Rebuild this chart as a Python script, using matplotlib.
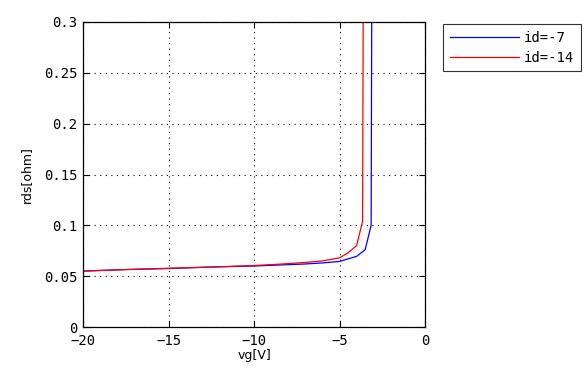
import numpy as np
import matplotlib
matplotlib.use("Agg")
import matplotlib.pyplot as plt

# rds vs gate voltage, two drain currents
vg_7 = [-20, -17.5, -15, -12.5, -10, -8.5, -7, -6, -5, -4.5, -4, -3.5, -3.15, -3.1]
rds_7 = [0.055, 0.0565, 0.0575, 0.059, 0.06, 0.061, 0.062, 0.063, 0.0645, 0.067, 0.0695, 0.076, 0.1, 0.4]

vg_14 = [-20, -17.5, -15, -12.5, -10, -8.5, -7, -6, -5, -4.5, -4, -3.65, -3.6]
rds_14 = [0.055, 0.0565, 0.0578, 0.059, 0.0605, 0.0618, 0.0635, 0.065, 0.068, 0.073, 0.08, 0.104, 0.4]

xticks = [-20, -15, -10, -5, 0]
yticks = [0, 0.05, 0.1, 0.15, 0.2, 0.25, 0.3]
ytick_labels = ["0", "0.05", "0.1", "0.15", "0.2", "0.25", "0.3"]

fig = plt.figure(figsize=(5.88, 3.78), dpi=100)
ax = fig.add_axes([0.1412, 0.1349, 0.5816, 0.8069])

l1, = ax.plot(vg_7, rds_7, color="blue", lw=0.9, label="id=-7")
l2, = ax.plot(vg_14, rds_14, color="red", lw=0.9, label="id=-14")

ax.set_xlim(-20, 0)
ax.set_ylim(0, 0.3)
ax.set_xticks(xticks)
ax.set_yticks(yticks)
ax.set_yticklabels(ytick_labels)
ax.tick_params(direction="in", top=True, right=True, length=4, width=0.8,
               labelsize=10)
ax.tick_params(axis="x", pad=5)
ax.tick_params(axis="y", pad=4)
for lab in ax.get_xticklabels() + ax.get_yticklabels():
    lab.set_family("DejaVu Sans Mono")
ax.grid(True, color="black", linestyle=(0, (1, 4)), linewidth=0.8)
for s in ax.spines.values():
    s.set_linewidth(0.9)

ax.set_xlabel("vg[V]", fontsize=9, labelpad=1)
ax.set_ylabel("rds[ohm]", fontsize=9, labelpad=8)

leg = fig.legend(handles=[l1, l2], loc="upper left",
                 bbox_to_anchor=(443 / 588, 1 - 24 / 378),
                 prop={"family": "DejaVu Sans Mono", "size": 10},
                 frameon=True, fancybox=False, edgecolor="black",
                 handlelength=5.0, borderpad=0.5, labelspacing=0.4,
                 handletextpad=0.3, borderaxespad=0)
leg.get_frame().set_linewidth(0.8)

plt.savefig("out.png", dpi=100)
